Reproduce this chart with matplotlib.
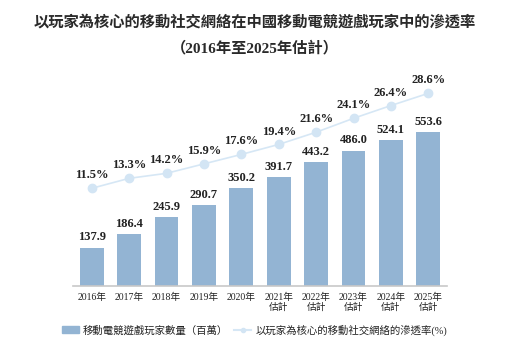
import numpy as np
import matplotlib.pyplot as plt

plt.rcParams['font.family'] = ['Liberation Serif', 'Noto Sans CJK TC']

# 資料
years = ['2016年', '2017年', '2018年', '2019年', '2020年',
         '2021年\n估計', '2022年\n估計', '2023年\n估計', '2024年\n估計', '2025年\n估計']
players = [137.9, 186.4, 245.9, 290.7, 350.2, 391.7, 443.2, 486.0, 524.1, 553.6]
rate = [11.5, 13.3, 14.2, 15.9, 17.6, 19.4, 21.6, 24.1, 26.4, 28.6]

bar_color = '#93b4d3'
line_color = '#d6e7f5'

fig = plt.figure(figsize=(5.28, 3.57), dpi=100)
ax = fig.add_axes([73/528, 1-286/357, 374/528, 206/357])
ax2 = ax.twinx()

x = np.arange(len(years))
ax.bar(x, players, width=0.64, color=bar_color, zorder=2)
for i, v in enumerate(players):
    ax.annotate('%.1f' % v, (x[i], v), xytext=(0, 3), textcoords='offset points',
                ha='center', va='bottom', fontsize=9, fontweight='bold', color='#222222')

ax2.plot(x, rate, '-o', color=line_color, lw=1.2, markersize=6,
         markerfacecolor='#d3e5f4', markeredgecolor='#d3e5f4', zorder=3)
for i, v in enumerate(rate):
    ax2.annotate('%.1f%%' % v, (x[i], v), xytext=(0, 5), textcoords='offset points',
                 ha='center', va='bottom', fontsize=9, fontweight='bold', color='#222222')

ax.set_xlim(-0.5, 9.5)
ax.set_ylim(0, 739)
ax2.set_ylim(-6.08, 31.0)

ax.set_xticks(x)
ax.set_xticklabels(years, fontsize=7, color='#222222', linespacing=1.1)
ax.tick_params(axis='x', length=0, pad=5)
ax.set_yticks([])
ax2.set_yticks([])
for s in ['top', 'left', 'right']:
    ax.spines[s].set_visible(False)
    ax2.spines[s].set_visible(False)
ax2.spines['bottom'].set_visible(False)
ax.spines['bottom'].set_color('#c8c8c8')
ax.spines['bottom'].set_linewidth(1.2)

fig.text(0.483, 1-22/357, '以玩家為核心的移動社交網絡在中國移動電競遊戲玩家中的滲透率',
         ha='center', va='center', fontsize=11, fontweight='bold', color='#2a2a2a')
fig.text(0.483, 1-48/357, '（2016年至2025年估計）',
         ha='center', va='center', fontsize=11, fontweight='bold', color='#2a2a2a')

h1 = plt.Rectangle((0, 0), 1, 1, color=bar_color)
h2, = ax2.plot([], [], '-o', color=line_color, markersize=3,
               markerfacecolor='#d3e5f4', markeredgecolor='#d3e5f4')
fig.legend([h1, h2], ['移動電競遊戲玩家數量（百萬）', '以玩家為核心的移動社交網絡的滲透率(%)'],
           loc='center', bbox_to_anchor=(0.482, 1-330/357), ncol=2, frameon=False,
           fontsize=7.5, handlelength=1.6, handleheight=0.6, columnspacing=0.6,
           handletextpad=0.4, labelcolor='#222222')

fig.savefig('out.png', dpi=100)
